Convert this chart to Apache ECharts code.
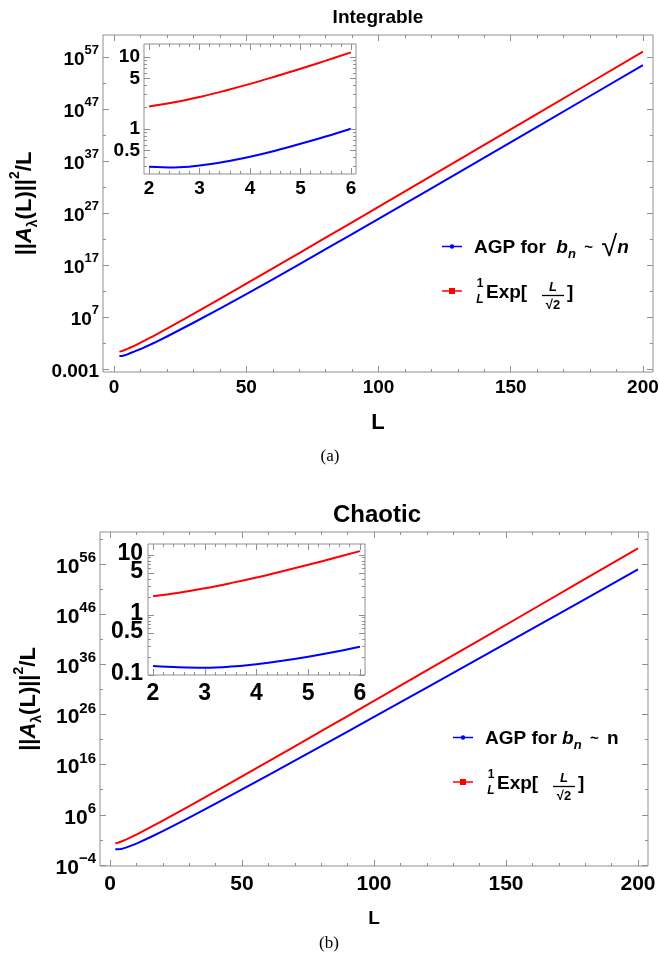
<!DOCTYPE html>
<html><head><meta charset="utf-8">
<script src="https://cdn.jsdelivr.net/npm/echarts@6/dist/echarts.min.js"></script>
<style>html,body{margin:0;padding:0;background:#fff}#c{width:660px;height:962px}</style>
</head><body><div id="c"></div>
<script>
// ---------------- data ----------------
const L_values = [2,2.5,3,3.5,4,4.5,5,5.5,6,8,10,15,20,30,40,50,60,70,80,90,100,120,140,160,180,200];
// log10 of ||A||^2/L
const redA_log10  = [0.313,0.370,0.444,0.531,0.626,0.729,0.836,0.949,1.064,1.53,2.03,3.35,4.73,7.57,10.46,13.38,16.31,19.26,22.22,25.18,28.15,34.10,40.06,46.04,52.02,58.00];
const blueA_log10 = [-0.524,-0.534,-0.507,-0.455,-0.385,-0.301,-0.206,-0.104,0.004,0.41,0.815,1.97,3.23,5.87,8.59,11.38,14.23,17.11,20.02,22.93,25.85,31.72,37.61,43.54,49.47,55.40];
const redB_log10  = [0.313,0.370,0.444,0.531,0.626,0.729,0.836,0.949,1.064,1.554,2.071,3.43,4.841,7.736,10.682,13.656,16.648,19.652,22.665,25.685,28.71,34.773,40.848,46.932,53.023,59.119];
const blueB_log10 = [-0.85,-0.87,-0.878,-0.86,-0.82,-0.764,-0.696,-0.618,-0.528,-0.146,0.271,1.48,2.741,5.436,8.232,11.056,13.928,16.812,19.705,22.605,25.51,31.373,37.248,43.132,49.023,54.919];
const insetCount = 9; // points L = 2 .. 6 used by the insets

// tick labels
const xMainTicks = [0,50,100,150,200];
const xMainMinor = [10,20,30,40,60,70,80,90,110,120,130,140,160,170,180,190];
const yA_exp = [-3,7,17,27,37,47,57];
const yA_minorExp = [2,12,22,32,42,52];
const yB_exp = [-4,6,16,26,36,46,56];
const yB_minorExp = [1,11,21,31,41,51,61];
const xInsetTicks = [2,3,4,5,6];
const xInsetMinor = [2.2,2.4,2.6,2.8,3.2,3.4,3.6,3.8,4.2,4.4,4.6,4.8,5.2,5.4,5.6,5.8];
const yInsetA_ticks = [0.5,1,5,10];
const yInsetB_ticks = [0.1,0.5,1,5,10];
const yInsetMinor = [0.2,0.3,0.4,0.6,0.7,0.8,0.9,2,3,4,6,7,8,9];

// ---------------- styling ----------------
const FONT = 'Liberation Sans, Arial, sans-serif';
const FRAME = '#8f8f8f';
const BLUE = '#0000ff', RED = '#ff0000';
const pow10 = e => Math.pow(10, e);

function xAxes(gridIndex, min, max, majors, minors, o) {
  const base = {type:'value', gridIndex, min, max, z:6, axisLine:{show:false, onZero:false}, splitLine:{show:false}};
  return [
    Object.assign({}, base, {position:'bottom',
      axisTick:{show:true, inside:true, length:6, lineStyle:{color:FRAME}, customValues:majors},
      axisLabel:{show:true, customValues:majors, hideOverlap:false, showMinLabel:true, showMaxLabel:true, margin:o.margin, fontSize:o.fs, fontWeight:'bold', color:'#000', fontFamily:FONT},
      name:o.name || '', nameLocation:'middle', nameGap:o.nameGap || 0,
      nameTextStyle:{fontSize:o.nameSize || 12, fontWeight:'bold', color:'#000', fontFamily:FONT}}),
    Object.assign({}, base, {position:'bottom', axisTick:{show:true, inside:true, length:3, lineStyle:{color:FRAME}, customValues:minors}, axisLabel:{show:false}}),
    Object.assign({}, base, {position:'top', axisTick:{show:true, inside:true, length:6, lineStyle:{color:FRAME}, customValues:majors}, axisLabel:{show:false}}),
    Object.assign({}, base, {position:'top', axisTick:{show:true, inside:true, length:3, lineStyle:{color:FRAME}, customValues:minors}, axisLabel:{show:false}})
  ];
}
// labels may be split over two overlaid axes so that close labels are both kept
function yAxes(gridIndex, min, max, majors, minors, o) {
  const base = {type:'log', logBase:10, gridIndex, min, max, z:6, axisLine:{show:false, onZero:false}, splitLine:{show:false}};
  const lab = vals => ({show:true, customValues:vals, hideOverlap:false, showMinLabel:true, showMaxLabel:true, margin:o.margin, formatter:o.fmt, rich:o.rich, color:'#000', fontFamily:FONT, fontWeight:'bold', fontSize:o.fs});
  const labels1 = o.labels1 || majors;
  return [
    Object.assign({}, base, {position:'left',
      axisTick:{show:true, inside:true, length:6, lineStyle:{color:FRAME}, customValues:majors},
      axisLabel:lab(labels1),
      name:o.name || '', nameLocation:'middle', nameGap:o.nameGap || 0,
      nameTextStyle:{rich:o.nameRich || {}, color:'#000'}}),
    Object.assign({}, base, {position:'left', axisTick:{show:true, inside:true, length:3, lineStyle:{color:FRAME}, customValues:minors},
      axisLabel: o.labels2 ? lab(o.labels2) : {show:false}}),
    Object.assign({}, base, {position:'right', axisTick:{show:true, inside:true, length:6, lineStyle:{color:FRAME}, customValues:majors}, axisLabel:{show:false}}),
    Object.assign({}, base, {position:'right', axisTick:{show:true, inside:true, length:3, lineStyle:{color:FRAME}, customValues:minors}, axisLabel:{show:false}})
  ];
}

function powRich(big, small, lh) {
  return {
    b:{fontSize:big, fontWeight:'bold', fontFamily:FONT, color:'#000', lineHeight:lh || big+6, verticalAlign:'bottom'},
    s:{fontSize:small, fontWeight:'bold', fontFamily:FONT, color:'#000', lineHeight:small+2, verticalAlign:'top'}
  };
}
function fmtPow(v, zeroPointStyle) {
  const e = Math.round(Math.log10(v));
  if (zeroPointStyle && e === -3) return '{b|0.001}';
  return '{b|10}{s|' + (e < 0 ? '\u2212' + (-e) : e) + '}';
}
function fmtInset(v) {
  if (v >= 1) return '{b|' + Math.round(v) + '}';
  return '{b|' + (Math.round(v * 10) / 10) + '}';
}
function nameRich(fs) {
  return {
    t:{fontSize:fs, fontWeight:'bold', fontFamily:FONT, color:'#000', lineHeight:fs+10, verticalAlign:'middle'},
    i:{fontSize:fs, fontWeight:'bold', fontStyle:'italic', fontFamily:FONT, color:'#000', lineHeight:fs+10, verticalAlign:'middle'},
    sub:{fontSize:Math.round(fs*0.62), fontWeight:'bold', fontFamily:FONT, color:'#000', lineHeight:fs*0.6, verticalAlign:'bottom'},
    sup:{fontSize:Math.round(fs*0.62), fontWeight:'bold', fontFamily:FONT, color:'#000', lineHeight:fs*0.6, verticalAlign:'top'}
  };
}
const yName = '{t|||}{i|A}{sub|\u03bb}{t|(L)||}{sup|2}{t|/L}';

// ---------------- grids ----------------
const grids = [
  {left:103, top:35, width:550, height:337},   // main (a)
  {left:144, top:44, width:212, height:130},   // inset (a)
  {left:100, top:532, width:548, height:334},  // main (b)
  {left:148, top:544, width:217, height:131}   // inset (b)
].map((g, i) => Object.assign(g, {show:true, borderColor:FRAME, borderWidth:1, backgroundColor:'#fff', containLabel:false, outerBoundsMode:'none', z: i % 2 ? 3 : 1}));

const xAxis = [].concat(
  xAxes(0, -4.2, 203.8, xMainTicks, xMainMinor, {margin:6, fs:19, name:'L', nameGap:40, nameSize:22}),
  xAxes(1, 1.9, 6.1, xInsetTicks, xInsetMinor, {margin:5, fs:19}),
  xAxes(2, -3.8, 203.8, xMainTicks, xMainMinor, {margin:8, fs:21, name:'L', nameGap:43, nameSize:19}),
  xAxes(3, 1.903, 6.097, xInsetTicks, xInsetMinor, {margin:7, fs:23})
);
const yAxis = [].concat(
  yAxes(0, pow10(-3.6), pow10(61.2), yA_exp.map(pow10), yA_minorExp.map(pow10),
    {margin:4, fs:19, fmt:v => fmtPow(v, true), rich:powRich(19, 13), name:yName, nameGap:53, nameRich:nameRich(22)}),
  yAxes(1, pow10(-0.625), pow10(1.18), yInsetA_ticks, yInsetMinor,
    {margin:4, fs:19, fmt:fmtInset, rich:powRich(19, 13, 19), labels1:[1,10], labels2:[0.5,5]}),
  yAxes(2, pow10(-4.2), pow10(62.38), yB_exp.map(pow10), yB_minorExp.map(pow10),
    {margin:4, fs:21, fmt:v => fmtPow(v, false), rich:powRich(21, 15), name:yName, nameGap:52, nameRich:nameRich(22)}),
  yAxes(3, pow10(-1.0), pow10(1.183), yInsetB_ticks, yInsetMinor,
    {margin:5, fs:23, fmt:fmtInset, rich:powRich(23, 15, 20), labels1:[0.1,1,10], labels2:[0.5,5]})
);

function pts(logs, n) {
  const out = [];
  const count = n || L_values.length;
  for (let i = 0; i < count; i++) out.push([L_values[i], pow10(logs[i])]);
  return out;
}
function line(axisIdx, data, color, z, smooth) {
  return {type:'line', xAxisIndex:axisIdx*4, yAxisIndex:axisIdx*4, data, showSymbol:false, symbol:'none',
    smooth:smooth || false, lineStyle:{color, width:2, join:'round'}, itemStyle:{color}, z:z || 2, animation:false, silent:true};
}
const series = [
  line(0, pts(blueA_log10), BLUE), line(0, pts(redA_log10), RED),
  line(1, pts(blueA_log10, insetCount), BLUE, 5, 0.4), line(1, pts(redA_log10, insetCount), RED, 5, 0.4),
  line(2, pts(blueB_log10), BLUE), line(2, pts(redB_log10), RED),
  line(3, pts(blueB_log10, insetCount), BLUE, 5, 0.4), line(3, pts(redB_log10, insetCount), RED, 5, 0.4)
];

// ---------------- texts & legends ----------------
function txt(x, y, text, font, align, extra) {
  return Object.assign({type:'text', x, y, z:10, style:Object.assign({text, font, fill:'#000', textAlign:align || 'center', textVerticalAlign:'middle', verticalAlign:'middle'}, extra || {})});
}
function legend(dx, dy, fs, agpText) {
  const fr = Math.round(fs * 0.63);
  const rich = {
    t:{fontSize:fs, fontWeight:'bold', fontFamily:FONT, fill:'#000', color:'#000', lineHeight:fs+8, verticalAlign:'middle'},
    i:{fontSize:fs, fontWeight:'bold', fontStyle:'italic', fontFamily:FONT, fill:'#000', color:'#000', lineHeight:fs+8, verticalAlign:'middle'},
    sub:{fontSize:Math.round(fs*0.7), fontWeight:'bold', fontStyle:'italic', fontFamily:FONT, fill:'#000', color:'#000', lineHeight:fs*0.7, verticalAlign:'bottom'},
    w:{fontSize:Math.round(fs*0.8), fontWeight:'bold', fontFamily:FONT, fill:'#000', color:'#000', lineHeight:fs+8, verticalAlign:'middle'},
    sq:{fontSize:Math.round(fs*1.5), fontFamily:FONT, fill:'#000', color:'#000', lineHeight:fs+8, verticalAlign:'middle'}
  };
  const els = [
    {type:'line', z:10, shape:{x1:dx, y1:dy, x2:dx+20, y2:dy}, style:{stroke:BLUE, lineWidth:1.5}},
    {type:'circle', z:10, shape:{cx:dx+10, cy:dy, r:2.2}, style:{fill:BLUE}},
    {type:'text', z:10, x:dx+32, y:dy+1, style:{text:agpText, rich, textAlign:'left', textVerticalAlign:'middle', verticalAlign:'middle'}},
    {type:'line', z:10, shape:{x1:dx, y1:dy+44.5, x2:dx+20, y2:dy+44.5}, style:{stroke:RED, lineWidth:1.5}},
    {type:'rect', z:10, shape:{x:dx+7, y:dy+41.5, width:6, height:6}, style:{fill:RED}},
    txt(dx+38, dy+37, '1', 'bold ' + fr + 'px ' + FONT),
    txt(dx+38, dy+53.5, 'L', 'italic bold ' + fr + 'px ' + FONT),
    txt(dx+44, dy+46.5, 'Exp[', 'bold ' + fs + 'px ' + FONT, 'left'),
    txt(dx+111, dy+40.5, 'L', 'italic bold ' + (fr+1) + 'px ' + FONT),
    {type:'line', z:10, shape:{x1:dx+100, y1:dy+49, x2:dx+122, y2:dy+49}, style:{stroke:'#000', lineWidth:1.3}},
    txt(dx+111, dy+58.5, '\u221a2', 'bold ' + (fr+1) + 'px ' + FONT),
    txt(dx+125, dy+46.5, ']', 'bold ' + fs + 'px ' + FONT, 'left')
  ];
  return els;
}

const graphic = [].concat(
  [txt(378, 18, 'Integrable', 'bold 19px ' + FONT),
   txt(377, 515, 'Chaotic', 'bold 24px ' + FONT),
   txt(330, 457, '(a)', '17px "Liberation Serif", serif'),
   txt(329, 944, '(b)', '17px "Liberation Serif", serif')],
  legend(442, 246.5, 19, '{t|AGP for  }{i|b}{sub|n}{w|  ~  }{sq|\u221a}{i|n}'),
  legend(453, 737.5, 19, '{t|AGP for }{i|b}{sub|n}{w|  ~  }{t|n}')
);

const chart = echarts.init(document.getElementById('c'), null, {renderer:'canvas'});
chart.setOption({
  animation:false,
  backgroundColor:'#fff',
  grid:grids, xAxis, yAxis, series, graphic
});
</script>
</body></html>
